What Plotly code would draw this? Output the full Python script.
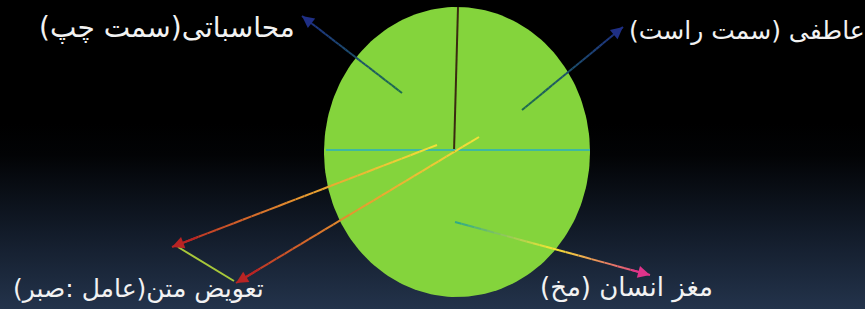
import numpy as np
import plotly.graph_objects as go

W, H = 865, 309

# Diagram elements (pixel-space coordinates)
brain_center = (457, 152)
brain_radii = (133, 145)

labels = ["محاسباتی(سمت چپ)", "عاطفی (سمت راست)", "تعویض متن(عامل :صبر)", "مغز انسان (مخ)"]
label_x = [167, 747, 138, 626]
label_y = [27, 30, 288, 287]
label_size = [28, 25, 25, 26]

# arrows: start, end, colour stops
arrow_start = [(402, 93), (522, 110), (437, 145), (479, 137), (455, 222)]
arrow_end = [(302, 16), (623, 27), (172, 247), (236, 283), (650, 275)]
arrow_colors = [
    ["#1d6e4e", "#1d4e6e", "#1f2f85"],
    ["#1d6e4e", "#1d4e6e", "#1f2f85"],
    ["#f2e33a", "#e89a30", "#b82424"],
    ["#f2e33a", "#e89a30", "#b82424"],
    ["#2aa88a", "#f5e633", "#e0338a"],
]

# plain lines
line_start = [(458, 7), (326, 150), (178, 247)]
line_end = [(454, 152), (590, 150), (234, 281)]
line_colors = ["#3a2a10", "#3fb8a0", "#a8c83a"]


def hex2rgb(h):
    h = h.lstrip("#")
    return np.array([int(h[i:i + 2], 16) for i in (0, 2, 4)], dtype=float)


def interp_color(stops, t):
    n = len(stops) - 1
    k = min(int(t * n), n - 1)
    lt = t * n - k
    c = hex2rgb(stops[k]) * (1 - lt) + hex2rgb(stops[k + 1]) * lt
    return "rgb(%d,%d,%d)" % tuple(c)


fig = go.Figure()

# background gradient (black at top, dark slate at bottom)
fig.add_trace(go.Scatter(
    x=[0, W, W, 0, 0], y=[0, 0, H, H, 0], mode="lines", line=dict(width=0),
    fill="toself",
    fillgradient=dict(type="vertical",
                      colorscale=[[0, "#23334b"], [0.25, "#121b29"], [0.5, "#020305"], [0.6, "#000000"], [1, "#000000"]]),
    hoverinfo="skip", showlegend=False))

# brain ellipse
th = np.linspace(0, 2 * np.pi, 200)
fig.add_trace(go.Scatter(
    x=brain_center[0] + brain_radii[0] * np.cos(th),
    y=brain_center[1] + brain_radii[1] * np.sin(th),
    mode="lines", line=dict(width=0), fill="toself", fillcolor="#84d43c",
    hoverinfo="skip", showlegend=False))

for s, e, c in zip(line_start, line_end, line_colors):
    fig.add_trace(go.Scatter(x=[s[0], e[0]], y=[s[1], e[1]], mode="lines",
                             line=dict(color=c, width=2), hoverinfo="skip", showlegend=False))

N = 30
for s, e, stops in zip(arrow_start, arrow_end, arrow_colors):
    for i in range(N):
        t0, t1 = i / N, (i + 1) / N
        fig.add_trace(go.Scatter(
            x=[s[0] + (e[0] - s[0]) * t0, s[0] + (e[0] - s[0]) * t1],
            y=[s[1] + (e[1] - s[1]) * t0, s[1] + (e[1] - s[1]) * t1],
            mode="lines", line=dict(color=interp_color(stops, (t0 + t1) / 2), width=2),
            hoverinfo="skip", showlegend=False))
    fig.add_annotation(x=e[0], y=e[1], ax=s[0] + (e[0] - s[0]) * 0.9, ay=s[1] + (e[1] - s[1]) * 0.9,
                       axref="x", ayref="y", xref="x", yref="y", text="", showarrow=True,
                       arrowhead=2, arrowsize=1.2, arrowwidth=2, arrowcolor=stops[-1])

for t, x, y, fs in zip(labels, label_x, label_y, label_size):
    fig.add_annotation(x=x, y=y, xref="x", yref="y", text=t, showarrow=False,
                       font=dict(family="DejaVu Sans", size=fs, color="#f2f2f2"))

fig.update_layout(
    width=W, height=H, margin=dict(l=0, r=0, t=0, b=0),
    paper_bgcolor="black", plot_bgcolor="black",
    xaxis=dict(range=[0, W], visible=False, fixedrange=True),
    yaxis=dict(range=[H, 0], visible=False, fixedrange=True),
    showlegend=False,
)

fig.write_html("out.html", config={"displayModeBar": False},
               post_script="document.body.style.margin='0';document.body.style.overflow='hidden';")
